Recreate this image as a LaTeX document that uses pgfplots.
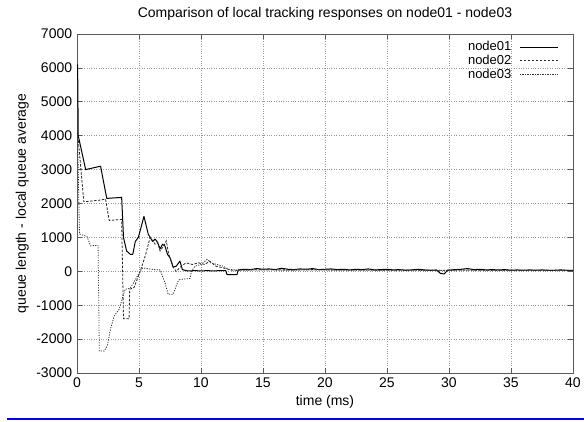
\documentclass[border=0pt]{standalone}
\usepackage{fontspec}
\setmainfont{Liberation Sans}
\usepackage{pgfplots}
\pgfplotsset{compat=1.18}
\definecolor{capblue}{RGB}{0,0,235}
\definecolor{frame}{RGB}{90,90,90}
\begin{document}
\fontsize{14}{16}\selectfont
\begin{tikzpicture}
\path[use as bounding box] (0,0) rectangle (584pt,422pt);
\begin{axis}[
 at={(77pt,49pt)}, anchor=south west,
 width=496pt, height=339pt, scale only axis,
 xmin=0, xmax=40, ymin=-3000, ymax=7000,
 xtick={0,5,...,40}, ytick={-3000,-2000,...,7000},
 /pgf/number format/assume math mode=true,
 /pgf/number format/1000 sep={},
 tick label style={font=\fontsize{14}{16}\selectfont},
 label style={font=\fontsize{14}{16}\selectfont},
 grid=major, major grid style={dotted, gray!80, line width=0.6pt},
 axis line style={frame, line width=0.9pt},
 tick style={frame, line width=0.7pt}, tick align=inside, major tick length=5pt,
 title={Comparison of local tracking responses on node01 - node03},
 title style={font=\fontsize{14}{16}\selectfont, at={(0.5,1)}, anchor=south, yshift=3pt},
 xlabel={time (ms)}, ylabel={queue length - local queue average},
 xlabel style={yshift=2pt},
 ylabel style={yshift=-2pt},
 legend style={draw=none, fill=none, at={(0.975,0.99)}, anchor=north east,
   font=\fontsize{13}{13}\selectfont, row sep=-2pt, inner sep=2pt},
 legend cell align=right,
 legend plot pos=right,
 legend image code/.code={\draw[#1] (0pt,0pt) -- (38pt,0pt);},
]
\addplot[black, line width=1.0pt, line join=round] coordinates {
(0.05,6100) (0.1,4000) (0.7,3000) (1.9,3100) (2.4,2150) (3.6,2180) (3.75,1000)
(4.0,600) (4.3,500) (4.5,500) (4.7,880) (4.95,1000) (5.4,1620) (5.75,1090)
(6.1,880) (6.3,950) (6.5,850) (6.7,660) (6.9,800) (7.1,740) (7.3,500) (7.5,400)
(7.75,120) (8.0,150) (8.3,300) (8.5,50) (8.8,20) (9.0,10) (9.5,20) (10.0,10)
(10.5,20) (11.0,10) (11.5,20) (12.0,20) (12.1,-100) (12.9,-100) (13.0,40)
(13.5,60) (14.0,50) (14.5,80) (15.0,60) (15.5,70) (16.0,50) (16.5,90) (17.0,60)
(17.5,50) (18.0,70) (18.5,60) (19.0,80) (19.5,50) (20.0,60) (20.5,70) (21.0,50)
(21.5,60) (22.0,40) (22.5,60) (23.0,50) (23.5,70) (24.0,40) (24.5,50) (25.0,60)
(25.5,40) (26.0,50) (26.5,30) (27.0,40) (27.5,60) (28.0,40) (28.5,30) (29.0,40)
(29.3,-60) (29.6,-80) (29.9,30) (30.5,50) (31.0,60) (31.5,80) (32.0,50) (32.5,60)
(33.0,40) (33.5,50) (34.0,40) (34.5,50) (35.0,30) (35.5,40) (36.0,30) (36.5,40)
(37.0,30) (37.5,40) (38.0,30) (38.5,30) (39.0,40) (39.5,30) (40.0,30)
};
\addlegendentry{node01\kern6pt}
\addplot[black!85, line width=0.8pt, dash pattern=on 2.5pt off 1.5pt] coordinates {
(0.05,4100) (0.55,2050) (1.85,2100) (2.3,2130) (2.6,1500) (3.6,1530) (3.75,-1400)
(4.2,-1400) (4.25,-530) (4.6,-480) (5.1,0) (5.5,450) (5.9,1000) (6.1,900)
(6.3,800) (6.5,850) (6.7,600) (7.0,750) (7.2,900) (7.4,500) (7.6,300) (7.8,100)
(8.0,0) (8.4,150) (8.8,250) (9.3,200) (9.8,250) (10.3,200) (10.7,300) (11.2,150)
(11.8,100) (12.5,30) (13.5,40) (15,50) (17,40) (19,50) (21,40) (23,40) (25,30)
(27,40) (29,30) (31,40) (33,30) (35,30) (37,30) (40,30)
};
\addlegendentry{node02\kern6pt}
\addplot[black!80, line width=0.8pt, dash pattern=on 1.2pt off 1.3pt] coordinates {
(0.05,3900) (0.2,1100) (0.8,1030) (1.1,750) (1.7,770) (1.8,-2350) (2.2,-2350)
(2.45,-2200) (2.7,-1700) (3.0,-1320) (3.4,-1120) (3.8,-620) (3.9,-530) (4.3,-500)
(4.7,-250) (5.1,0) (5.3,100) (6.0,60) (6.7,40) (7.1,-340) (7.35,-680) (7.75,-680)
(8.15,-290) (8.3,-240) (9.1,-210) (9.25,0) (9.5,150) (10.0,200) (10.5,350)
(10.8,250) (11.3,200) (11.8,150) (12.2,60) (13,30) (15,40) (17,30) (19,40)
(21,30) (23,30) (25,30) (27,30) (29,20) (31,30) (33,30) (35,20) (37,30) (40,20)
};
\addlegendentry{node03\kern6pt}
\end{axis}
\draw[capblue, line width=2pt] (7pt,3pt) -- (584pt,3pt);
\end{tikzpicture}
\end{document}
